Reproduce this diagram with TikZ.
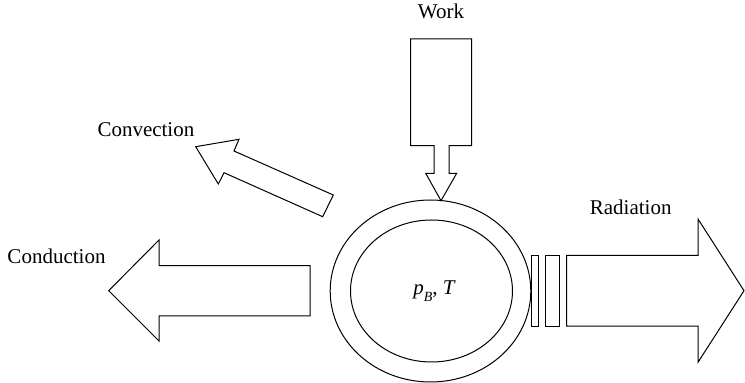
\documentclass[tikz,border=0pt]{standalone}
\usepackage{fontspec}
\setmainfont{Liberation Serif}
\usepackage{tikz}

\begin{document}
\begin{tikzpicture}[x=1pt,y=1pt,
  outline/.style={draw=black, fill=white, line width=1pt, line join=miter},
  label/.style={font=\fontsize{21}{24}\selectfont, inner sep=0pt}]
\useasboundingbox (0,0) rectangle (745,383);
% vessel
\draw[outline] (430.5,92) ellipse [x radius=100.3, y radius=91];
\draw[outline] (431.5,92) ellipse [x radius=81, y radius=71];
\node[label, font=\fontsize{21}{24}\selectfont\itshape] (state) at (434,92)
  {p\raisebox{-0.3em}{\fontsize{14}{16}\selectfont B}\upshape, \itshape T};
% work
\draw[outline] (410.7,344) -- (471.5,344) -- (471.5,237.3) -- (449,237.3) -- (449,209.7)
  -- (456.7,209.7) -- (441,182.3) -- (425.7,209.7) -- (434,209.7) -- (434,237.3)
  -- (410.7,237.3) -- cycle;
% convection
\draw[outline] (195.7,236.3) -- (239,243.7) -- (234,232) -- (333.3,188) -- (322.7,166.3)
  -- (224,210.3) -- (218.3,199) -- cycle;
% conduction
\draw[outline] (108.7,92.3) -- (159,143) -- (159,117.3) -- (310,117.3) -- (310,67)
  -- (159,67) -- (159,42) -- cycle;
% radiation
\draw[outline] (531.7,127.5) rectangle (538.7,56.8);
\draw[outline] (545.7,127.5) rectangle (559.3,56.8);
\draw[outline] (566.7,127.5) -- (698,127.5) -- (698,164) -- (744,92.3) -- (698,20.7)
  -- (698,56.8) -- (566.7,56.8) -- cycle;
% labels
\node[label, anchor=base] (work) at (441,364.7) {Work};
\node[label, anchor=base west] (convection) at (97.3,246.3) {Convection};
\node[label, anchor=base west] (conduction) at (7.3,119.7) {Conduction};
\node[label, anchor=base east] (radiation) at (671.7,168) {Radiation};
\end{tikzpicture}
\end{document}
